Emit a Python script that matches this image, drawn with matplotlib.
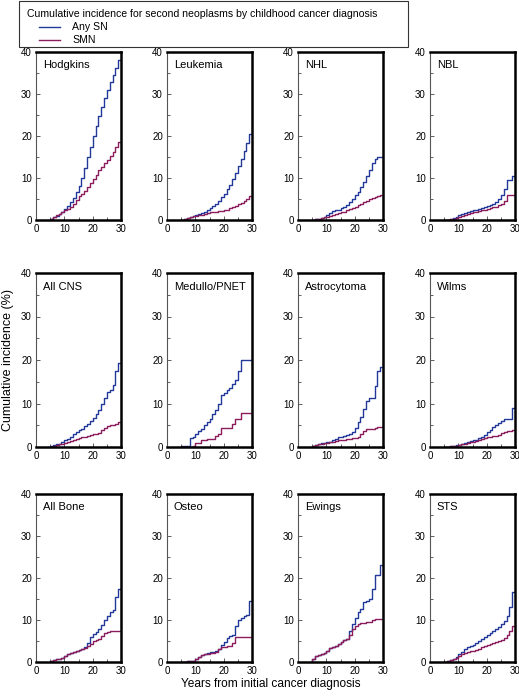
import numpy as np
import matplotlib
matplotlib.use("Agg")
import matplotlib.pyplot as plt
from matplotlib.lines import Line2D
from matplotlib.patches import Rectangle

plt.rcParams['font.family'] = ['Liberation Sans', 'DejaVu Sans']

# years since diagnosis, one value per year (5..30), value = level reached by that year
years = list(range(5, 31))

panel_names = ["Hodgkins", "Leukemia", "NHL", "NBL",
               "All CNS", "Medullo/PNET", "Astrocytoma", "Wilms",
               "All Bone", "Osteo", "Ewings", "STS"]

hodgkins_any = [0, 0.3, 0.6, 1.0, 1.4, 2.0, 2.6, 3.3, 4.2, 5.3, 6.6, 8.0, 10, 12.5, 15, 17.5, 20, 22.5, 24.8, 27, 29, 31, 32.8, 34.5, 36.2, 38]
hodgkins_smn = [0, 0.3, 0.7, 1.1, 1.5, 1.9, 2.3, 2.7, 3.1, 3.8, 4.7, 5.6, 6.3, 7.0, 7.8, 8.7, 9.7, 10.8, 11.9, 12.7, 13.5, 14.2, 15.2, 16.3, 17.4, 18.5]

leukemia_any = [0, 0.1, 0.3, 0.5, 0.7, 0.9, 1.1, 1.4, 1.7, 2.0, 2.4, 2.8, 3.3, 3.9, 4.6, 5.4, 6.3, 7.3, 8.4, 9.7, 11.2, 12.8, 14.5, 16.4, 18.4, 20.5]
leukemia_smn = [0, 0.1, 0.3, 0.5, 0.7, 0.9, 1.0, 1.1, 1.3, 1.5, 1.6, 1.8, 1.9, 2.0, 2.1, 2.2, 2.3, 2.5, 2.8, 3.1, 3.4, 3.7, 4.0, 4.5, 5.0, 5.7]

nhl_any = [0, 0.1, 0.2, 0.3, 0.5, 0.7, 1.3, 1.7, 2.1, 2.3, 2.5, 2.8, 3.2, 3.5, 4.2, 5, 6, 6.7, 7.8, 9, 10.5, 12, 13.5, 14.5, 15, 15]
nhl_smn = [0, 0.1, 0.2, 0.3, 0.4, 0.6, 0.8, 1.0, 1.2, 1.4, 1.6, 1.8, 2.0, 2.3, 2.6, 2.9, 3.2, 3.5, 3.9, 4.3, 4.6, 4.9, 5.2, 5.5, 5.8, 6]

nbl_any = [0, 0, 0.1, 0.3, 0.5, 0.8, 1.1, 1.4, 1.7, 2.0, 2.1, 2.3, 2.5, 2.7, 2.9, 3.1, 3.3, 3.6, 3.9, 4.3, 5, 6, 7.5, 9.5, 9.5, 10.5]
nbl_smn = [0, 0, 0.1, 0.2, 0.3, 0.5, 0.7, 0.9, 1.1, 1.4, 1.6, 1.8, 2.0, 2.1, 2.3, 2.5, 2.6, 2.8, 3.0, 3.2, 3.5, 3.9, 4.6, 6, 6, 6]

cns_any = [0, 0.2, 0.4, 0.6, 0.8, 1.1, 1.5, 1.9, 2.4, 2.9, 3.4, 3.8, 4.2, 4.8, 5.3, 5.9, 6.7, 7.6, 8.6, 9.8, 11.2, 12.6, 13.2, 14.2, 17.5, 19.2]
cns_smn = [0, 0.1, 0.3, 0.5, 0.6, 0.8, 1.0, 1.2, 1.4, 1.6, 1.8, 2.0, 2.2, 2.4, 2.6, 2.8, 3.0, 3.1, 3.3, 3.8, 4.4, 4.9, 5.0, 5.1, 5.4, 5.8]

medullo_any = [0, 0.3, 0.3, 0.3, 2, 2.3, 3, 3.6, 4.2, 5, 5.8, 6.5, 7.5, 8.5, 10, 12, 12.5, 13, 13.5, 14.5, 15.5, 17.5, 20, 20, 20, 20]
medullo_smn = [0, 0, 0, 0, 0, 0.3, 1, 1, 1.5, 1.5, 1.8, 1.9, 1.9, 2.5, 3.1, 4.3, 4.3, 4.3, 4.3, 5.4, 6.5, 6.5, 7.8, 7.8, 7.8, 7.8]

astro_any = [0, 0.2, 0.4, 0.7, 0.9, 1, 1.1, 1.2, 1.5, 1.8, 2.2, 2.4, 2.6, 2.8, 3.1, 3.5, 4.3, 5.8, 7, 8.8, 10.5, 11.2, 11.2, 14, 17.5, 18.5]
astro_smn = [0, 0.2, 0.4, 0.6, 0.8, 0.9, 1.0, 1.1, 1.2, 1.3, 1.5, 1.6, 1.7, 1.8, 1.9, 2.0, 2.1, 2.4, 3.0, 3.7, 4.2, 4.2, 4.2, 4.3, 4.5, 4.7]

wilms_any = [0, 0.1, 0.1, 0.2, 0.3, 0.4, 0.5, 0.7, 0.9, 1.1, 1.3, 1.5, 1.7, 2.0, 2.3, 2.8, 3.5, 4.0, 4.5, 5.0, 5.5, 6.0, 6.5, 6.5, 6.5, 9]
wilms_smn = [0, 0.1, 0.1, 0.2, 0.3, 0.3, 0.4, 0.6, 0.8, 1.0, 1.1, 1.2, 1.4, 1.5, 1.8, 2.0, 2.2, 2.4, 2.5, 2.6, 2.8, 3.2, 3.5, 3.6, 3.6, 4]

bone_any = [0, 0.2, 0.4, 0.6, 0.8, 1.0, 1.4, 1.8, 2.1, 2.4, 2.6, 2.8, 3.1, 3.5, 4.5, 6, 6.7, 7.2, 7.8, 8.8, 9.9, 11, 12, 12.5, 15.5, 17.5]
bone_smn = [0, 0.2, 0.4, 0.6, 0.8, 1.0, 1.4, 1.8, 2.1, 2.4, 2.6, 2.8, 3.1, 3.4, 3.8, 4.2, 5, 5.3, 5.5, 6.2, 7, 7.2, 7.3, 7.3, 7.3, 7.3]

osteo_any = [0, 0, 0.1, 0.2, 0.2, 0.3, 0.8, 1.2, 1.6, 2.0, 2.2, 2.3, 2.4, 2.6, 3.2, 4, 4.8, 5.6, 6.1, 6.4, 8.5, 10, 10.5, 11, 11.3, 14.5]
osteo_smn = [0, 0, 0.1, 0.2, 0.2, 0.3, 0.8, 1.2, 1.6, 1.9, 2.0, 2.1, 2.2, 2.5, 3, 3.5, 3.6, 3.7, 3.8, 4.5, 6, 6, 6, 6, 6, 6]

ewings_any = [0, 0.8, 1.4, 1.6, 1.9, 2.2, 2.7, 3.3, 3.5, 3.9, 4.4, 4.8, 5.2, 5.4, 7.5, 9, 10.5, 11.8, 12.6, 14.2, 14.6, 15, 17.5, 20.6, 20.6, 23]
ewings_smn = [0, 0.8, 1.4, 1.6, 1.9, 2.2, 2.7, 3.3, 3.5, 3.9, 4.4, 4.8, 5.2, 5.4, 6.5, 7.8, 8.5, 9, 9.2, 9.3, 9.5, 9.6, 10, 10.2, 10.2, 10.2]

sts_any = [0, 0.1, 0.3, 0.5, 0.8, 1.2, 1.8, 2.4, 3.0, 3.5, 3.8, 4.1, 4.5, 5, 5.5, 6, 6.4, 6.8, 7.3, 7.8, 8.4, 9, 9.8, 11, 13, 16.6]
sts_smn = [0, 0.1, 0.3, 0.5, 0.7, 1.0, 1.4, 1.8, 2.1, 2.4, 2.6, 2.7, 2.9, 3.2, 3.5, 3.8, 4.0, 4.3, 4.5, 4.7, 5.0, 5.3, 5.8, 6.5, 7.5, 8.6]

any_sn = [hodgkins_any, leukemia_any, nhl_any, nbl_any,
          cns_any, medullo_any, astro_any, wilms_any,
          bone_any, osteo_any, ewings_any, sts_any]
smn = [hodgkins_smn, leukemia_smn, nhl_smn, nbl_smn,
       cns_smn, medullo_smn, astro_smn, wilms_smn,
       bone_smn, osteo_smn, ewings_smn, sts_smn]

BLUE = "#23399a"
MAGENTA = "#8c1d5c"

W, H = 519, 696
fig = plt.figure(figsize=(W / 100, H / 100), dpi=100)


def fx(px):
    return px / W


def fy(px):
    return 1 - px / H


# panel positions in pixels (left edge of each column, top/bottom of each row)
col_left = [36, 167, 298, 430]
col_w = 85
rows = [(52, 220), (273, 447), (494, 662)]

for i, name in enumerate(panel_names):
    r, c = divmod(i, 4)
    top, bot = rows[r]
    ax = fig.add_axes([fx(col_left[c]), fy(bot), col_w / W, (bot - top) / H])

    ax.plot(years, any_sn[i], drawstyle="steps-pre", color=BLUE, lw=1.0)
    ax.plot(years, smn[i], drawstyle="steps-pre", color=MAGENTA, lw=1.0)

    ax.set_xlim(0, 30)
    ax.set_ylim(0, 40)
    ax.set_xticks([0, 10, 20, 30])
    ax.set_yticks([0, 10, 20, 30, 40])
    ax.set_xticks([5, 15, 25], minor=True)
    ax.set_yticks([5, 15, 25, 35], minor=True)
    ax.tick_params(which="both", direction="in", labelsize=7, pad=3,
                   color="#444444", width=0.6)
    ax.tick_params(which="major", length=3)
    ax.tick_params(which="minor", length=2)

    # heavy frame on top/right/bottom, thin left spine
    for side in ["top", "right", "bottom"]:
        ax.spines[side].set_linewidth(1.8)
        ax.spines[side].set_color("black")
    ax.spines["left"].set_linewidth(0.8)
    ax.spines["left"].set_color("#555555")

    ax.text(0.08, 0.95, name, transform=ax.transAxes, fontsize=8,
            va="top", ha="left")

# legend box drawn by hand at the top
fig.patches.append(Rectangle((fx(19), fy(47)), (408 - 19) / W, 46 / H,
                             transform=fig.transFigure, fill=False,
                             edgecolor="#333333", lw=0.8))
fig.text(fx(27), fy(14), "Cumulative incidence for second neoplasms by childhood cancer diagnosis",
         fontsize=7.6, va="center", ha="left")
for label, color, ypx in [("Any SN", BLUE, 27), ("SMN", MAGENTA, 40)]:
    fig.add_artist(Line2D([fx(39), fx(60)], [fy(ypx), fy(ypx)], color=color, lw=1.0,
                          transform=fig.transFigure))
    fig.text(fx(72), fy(ypx), label, fontsize=7.6, va="center", ha="left")

fig.text(fx(8), fy(360), "Cumulative incidence (%)", rotation=90,
         fontsize=9, va="center", ha="center")
fig.text(fx(271), fy(684), "Years from initial cancer diagnosis",
         fontsize=8.6, va="center", ha="center")

fig.savefig("out.png", dpi=100)
